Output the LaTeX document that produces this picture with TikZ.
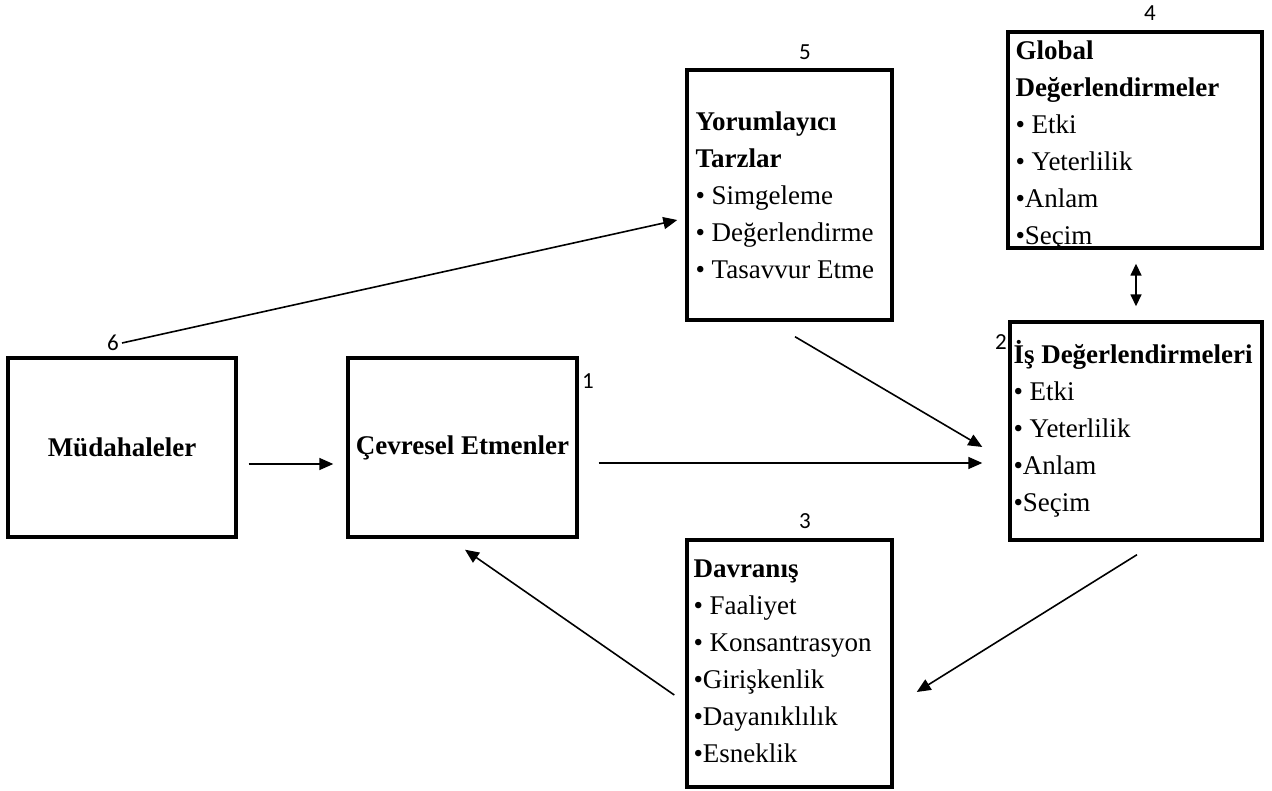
\documentclass[tikz,border=0pt]{standalone}
\usepackage{fontspec}
\setmainfont{Liberation Serif}
\newfontfamily\numfont{Carlito}
\usetikzlibrary{arrows.meta,calc}
\begin{document}
\begin{tikzpicture}[x=1pt,y=-1pt,
  box/.style={draw, line width=3.4pt, rectangle, inner sep=0pt,
    font=\fontsize{27}{37}\selectfont\bfseries},
  list/.style={inner sep=0pt, anchor=base west,
    font=\fontsize{27}{37}\selectfont},
  num/.style={inner sep=1pt, font=\numfont\fontsize{23}{23}\selectfont},
  arr/.style={line width=1.6pt, -{Triangle[length=14pt,width=12pt]}},
  dblarr/.style={line width=1.6pt,
    {Triangle[length=12pt,width=11pt]}-{Triangle[length=12pt,width=11pt]}}]

\useasboundingbox (0,0) rectangle (1272,791);

% boxes
\node[box, minimum width=228pt, minimum height=179pt] (b6) at (122,447.5) {Müdahaleler};
\node[box, minimum width=229pt, minimum height=179pt] (b1) at (462.5,447.5) {Çevresel Etmenler};
\node[box, minimum width=205pt, minimum height=250pt] (b5) at (789.5,195) {};
\node[box, minimum width=254pt, minimum height=216pt] (b4) at (1135,140) {};
\node[box, minimum width=252pt, minimum height=218pt] (b2) at (1136,431) {};
\node[box, minimum width=205pt, minimum height=247pt] (b3) at (789.5,663.5) {};

% box contents
\node[list] (t5) at ($(b5.north west)+(10,62)$) {\parbox[t]{200pt}{\raggedright
  \textbf{Yorumlayıcı}\\\textbf{Tarzlar}\\• Simgeleme\\• Değerlendirme\\• Tasavvur Etme}};
\node[list] (t4) at ($(b4.north west)+(9,29)$) {\parbox[t]{250pt}{\raggedright
  \textbf{Global}\\\textbf{Değerlendirmeler}\\• Etki\\• Yeterlilik\\•Anlam\\•Seçim}};
\node[list] (t2) at ($(b2.north west)+(5,43)$) {\parbox[t]{250pt}{\raggedright
  \textbf{İş Değerlendirmeleri}\\• Etki\\• Yeterlilik\\•Anlam\\•Seçim}};
\node[list] (t3) at ($(b3.north west)+(8,39)$) {\parbox[t]{200pt}{\raggedright
  \textbf{Davranış}\\• Faaliyet\\• Konsantrasyon\\•Girişkenlik\\•Dayanıklılık\\•Esneklik}};

% numbers
\node[num] (l1) at (588,381) {1};
\node[num] (l2) at (1001,342) {2};
\node[num] (l3) at (805,521) {3};
\node[num] (l4) at (1150,13) {4};
\node[num] (l5) at (805,52) {5};
\node[num] (l6) at (113,343) {6};

% connectors
\draw[arr] ($(b6.east)+(11,16.5)$) -- ($(b1.west)+(-13,16.5)$);
\draw[arr] ($(b1.east)+(20,15.5)$) -- ($(b2.west)+(-26,32)$);
\draw[arr] ([xshift=2pt]l6.east) -- ($(b5.west)+(-8,25)$);
\draw[arr] ($(b5.south)+(5.5,15)$) -- ($(b2.west)+(-26,16)$);
\draw[arr] ($(b2.south)+(1,13)$) -- ($(b3.east)+(23,28.5)$);
\draw[arr] ($(b3.west)+(-11,31.5)$) -- ($(b1.south)+(2.5,11)$);
\draw[dblarr] ($(b4.south)+(1,14)$) -- ($(b2.north)+(0,-14)$);
\end{tikzpicture}
\end{document}
